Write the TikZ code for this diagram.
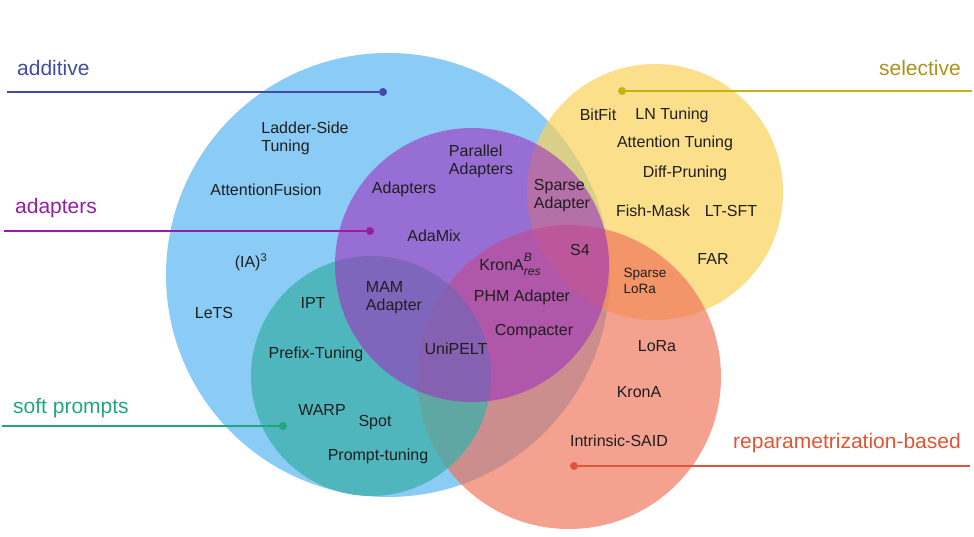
\documentclass[tikz,border=0pt]{standalone}
\usepackage{fontspec}
\setmainfont{Liberation Sans}
\usepackage{tikz}
\usetikzlibrary{positioning}

\definecolor{ink}{RGB}{30,30,30}
\definecolor{addblue}{RGB}{60,170,240}
\definecolor{adppurple}{RGB}{160,50,190}
\definecolor{softteal}{RGB}{60,175,170}
\definecolor{selyellow}{RGB}{250,210,90}
\definecolor{repred}{RGB}{240,110,85}
\definecolor{addtext}{RGB}{65,75,165}
\definecolor{adptext}{RGB}{150,30,165}
\definecolor{softtext}{RGB}{35,165,125}
\definecolor{seltext}{RGB}{175,145,25}
\definecolor{reptext}{RGB}{225,85,55}

\begin{document}
\begin{tikzpicture}[
	x=1pt, y=-1pt
	,item/.style={font=\fontsize{16}{18}\selectfont, text=ink, align=left, inner sep=0pt}
	,small/.style={item, font=\fontsize{13.5}{16}\selectfont}
	,cat/.style={font=\fontsize{21}{24}\selectfont, text=#1, inner sep=0pt}
	,dot/.style={circle, fill=#1, inner sep=0pt, minimum size=8pt}
	,lead/.style={line width=1.4pt, draw=#1}
]
	\useasboundingbox (0,0) rectangle (974,537);
	% sets
	\fill [addblue, fill opacity=.6] (388,275) circle (222pt);
	\fill [selyellow, fill opacity=.7] (655,192) circle (128pt);
	\fill [repred, fill opacity=.65] (569,377) circle (152pt);
	\fill [softteal, fill opacity=.75] (371,376) circle (120pt);
	\fill [adppurple, fill opacity=.6] (472,265) circle (137pt);

	% set names
	\node [cat=addtext, anchor=west] (additive) at (17,68) {additive};
	\node [cat=adptext, anchor=west] (adapters) at (15,208) {adapters};
	\node [cat=softtext, anchor=west] (soft) at (13,408) {soft prompts};
	\node [cat=seltext, anchor=east] (selective) at (961,68) {selective};
	\node [cat=reptext, anchor=east] (reparam) at (961,443) {reparametrization-based};

	\node [dot=addtext] (addDot) at (383,92) {};
	\node [dot=adptext] (adpDot) at (370,231) {};
	\node [dot=softtext] (softDot) at (283,426) {};
	\node [dot=seltext!70!yellow] (selDot) at (622,91) {};
	\node [dot=reptext] (repDot) at (574,466) {};
	\coordinate (addEnd) at (7,92);
	\coordinate (adpEnd) at (4,231);
	\coordinate (softEnd) at (2,426);
	\coordinate (selEnd) at (972,91);
	\coordinate (repEnd) at (970,466);
	\draw [lead=addtext] (addEnd) -- (addDot);
	\draw [lead=adptext] (adpEnd) -- (adpDot);
	\draw [lead=softtext] (softEnd) -- (softDot);
	\draw [lead=seltext!70!yellow] (selDot) -- (selEnd);
	\draw [lead=reptext] (repDot) -- (repEnd);

	% additive
	\node [item] (ladder) at (305,138) {Ladder-Side\\Tuning};
	\node [item] (attfusion) at (266,190) {AttentionFusion};
	\node [item] (ia3) at (251,262) {(IA)\textsuperscript{3}};
	\node [item] (lets) at (214,313) {LeTS};

	% adapters
	\node [item] (adapt) at (404,189) {Adapters};
	\node [item] (parallel) at (481,161) {Parallel\\Adapters};
	\node [item] (adamix) at (434,236) {AdaMix};
	\node [item] (mam) at (394,298) {MAM\\Adapter};
	\node [item] (kronab) at (510,264) {KronA\rlap{\raisebox{1.1ex}{\fontsize{12}{12}\selectfont\itshape B}}\raisebox{-0.55ex}{\fontsize{12}{12}\selectfont\itshape res}};
	\node [item] (phm) at (522,297) {PHM Adapter};
	\node [item] (compacter) at (534,332) {Compacter};
	\node [item] (unipelt) at (456,349) {UniPELT};
	\node [item] (sparseadp) at (562,196) {Sparse\\Adapter};
	\node [item] (s4) at (580,250) {S4};

	% soft prompts
	\node [item] (ipt) at (313,303) {IPT};
	\node [item] (prefix) at (316,354) {Prefix-Tuning};
	\node [item] (warp) at (322,410) {WARP};
	\node [item] (spot) at (375,423) {Spot};
	\node [item] (prompt) at (378,456) {Prompt-tuning};

	% selective
	\node [item] (bitfit) at (598,115) {BitFit};
	\node [item] (lntuning) at (672,115) {LN Tuning};
	\node [item] (atttuning) at (675,143) {Attention Tuning};
	\node [item] (diffprune) at (685,173) {Diff-Pruning};
	\node [item] (fishmask) at (653,211) {Fish-Mask};
	\node [item] (ltsft) at (731,211) {LT-SFT};
	\node [item] (far) at (713,259) {FAR};
	\node [small] (sparselora) at (645,281) {Sparse\\LoRa};

	% reparametrization-based
	\node [item] (lora) at (657,346) {LoRa};
	\node [item] (krona) at (639,392) {KronA};
	\node [item] (said) at (619,441) {Intrinsic-SAID};
\end{tikzpicture}
\end{document}
